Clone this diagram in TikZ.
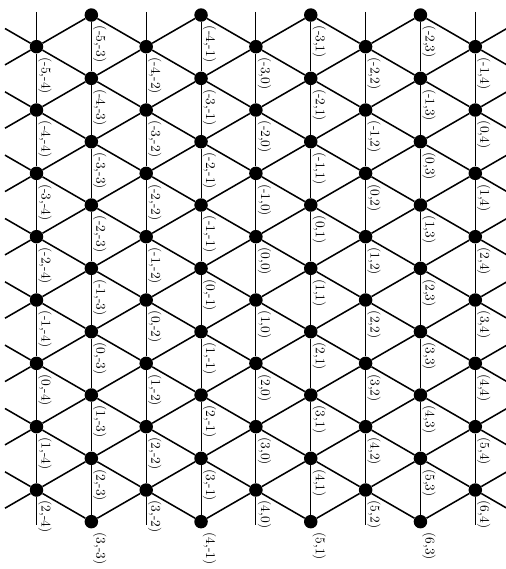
\documentclass[tikz,border=0pt]{standalone}
\begin{document}
\begin{tikzpicture}[x=1pt,y=-1pt,
  dot/.style={circle,fill=black,inner sep=0pt,minimum size=13.5pt},
  diag/.style={line width=1.55pt},
  vert/.style={line width=0.95pt},
  lab/.style={rotate=-90,anchor=south west,inner sep=0pt,scale=1.34,font=\fontsize{10}{12}\selectfont}]
\useasboundingbox (0,0) rectangle (505,569);
% lattice points, dots and labels
\foreach \c in {0,...,8}{
  \pgfmathtruncatemacro{\odd}{mod(\c,2)}
  \pgfmathtruncatemacro{\rmax}{7+\odd}
  \pgfmathsetmacro{\xx}{36.5+54.85*\c}
  \pgfmathsetmacro{\yy}{46.7-31.67*\odd}
  \pgfmathtruncatemacro{\labB}{\c-4}
  \pgfmathtruncatemacro{\amin}{-5+floor(\c/2)}
  \foreach \r in {0,...,\rmax}{
    \pgfmathtruncatemacro{\labA}{\amin+\r}
    \node[dot] (n-\c-\r) at (\xx,\yy+63.33*\r) {};
    \node[lab] (l-\c-\r) at ([shift={(1.5,10.5)}]n-\c-\r.center) {(\labA,\labB)};
  }
}
% vertical stub coordinates (even columns)
\foreach \c in {0,2,4,6,8}{
  \pgfmathsetmacro{\xx}{36.5+54.85*\c}
  \coordinate (top-\c) at (\xx,12);
  \coordinate (bot-\c) at (\xx,525);
  \draw[vert] (top-\c) -- (n-\c-0);
  \draw[vert] (n-\c-7) -- (bot-\c);
}
% vertical segments
\foreach \c in {0,...,8}{
  \pgfmathtruncatemacro{\odd}{mod(\c,2)}
  \pgfmathtruncatemacro{\rlast}{6+\odd}
  \foreach \r in {0,...,\rlast}{
    \pgfmathtruncatemacro{\rn}{\r+1}
    \draw[vert] (n-\c-\r) -- (n-\c-\rn);
  }
}
% diagonal segments
\foreach \d in {1,3,5,7}{
  \pgfmathtruncatemacro{\cl}{\d-1}
  \pgfmathtruncatemacro{\cr}{\d+1}
  \foreach \r in {0,...,7}{
    \pgfmathtruncatemacro{\rn}{\r+1}
    \draw[diag] (n-\cl-\r) -- (n-\d-\r);
    \draw[diag] (n-\d-\r) -- (n-\cr-\r);
    \draw[diag] (n-\cl-\r) -- (n-\d-\rn);
    \draw[diag] (n-\d-\rn) -- (n-\cr-\r);
  }
}
% side stubs
\foreach \r in {0,...,7}{
  \pgfmathsetmacro{\yy}{46.7+63.33*\r}
  \coordinate (lu-\r) at (5,\yy-18.19);
  \coordinate (ld-\r) at (5,\yy+18.19);
  \coordinate (ru-\r) at (506.8,\yy-18.19);
  \coordinate (rd-\r) at (506.8,\yy+18.19);
  \draw[diag] (lu-\r) -- (n-0-\r) -- (ld-\r);
  \draw[diag] (ru-\r) -- (n-8-\r) -- (rd-\r);
}
\end{tikzpicture}
\end{document}
